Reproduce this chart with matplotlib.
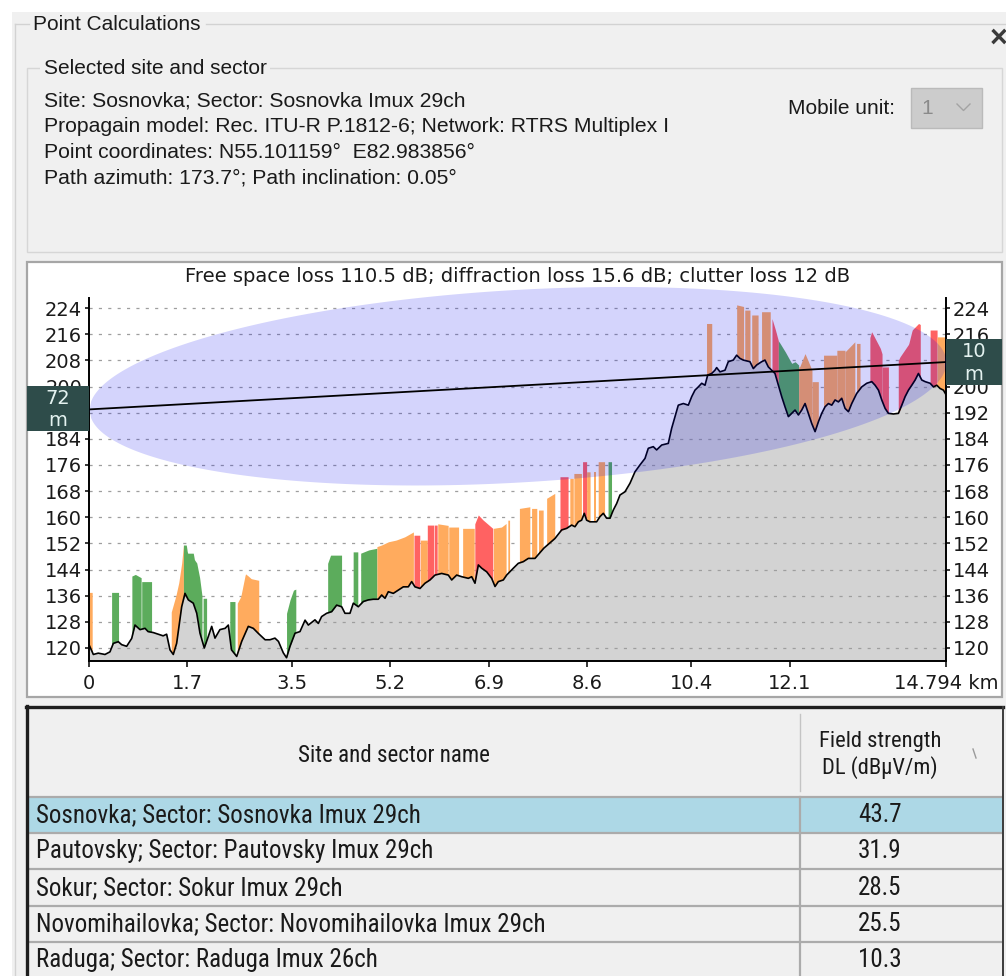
import numpy as np
import matplotlib
matplotlib.use("Agg")
import matplotlib.pyplot as plt
from matplotlib.patches import Rectangle
from matplotlib.lines import Line2D

W, H = 1006, 976
GUI_FONT = ["Liberation Sans", "DejaVu Sans"]
CHART_FONT = ["DejaVu Sans"]
TABLE_FONT = ["Roboto Condensed", "Liberation Sans", "DejaVu Sans"]
plt.rcParams["font.family"] = GUI_FONT
TXT = "#1a1a1a"

# ---------------- header information ----------------
window_title = "Point Calculations"
group_title = "Selected site and sector"
info_lines = [
    "Site: Sosnovka; Sector: Sosnovka Imux 29ch",
    "Propagain model: Rec. ITU-R P.1812-6; Network: RTRS Multiplex I",
    "Point coordinates: N55.101159\u00b0  E82.983856\u00b0",
    "Path azimuth: 173.7\u00b0; Path inclination: 0.05\u00b0",
]
mobile_unit = "1"
chart_title = "Free space loss 110.5 dB; diffraction loss 15.6 dB; clutter loss 12 dB"

# ---------------- path profile (km, m) ----------------
path_length_km = 14.794
tx_antenna_m = 72
rx_antenna_m = 10
fresnel_mid_radius_m = 29.5

profile_km = [
    0.000, 0.075, 0.160, 0.276, 0.362, 0.420, 0.506, 0.564, 0.650, 0.737,
    0.794, 0.880, 0.967, 1.020, 1.110, 1.196, 1.280, 1.340, 1.398, 1.455,
    1.513, 1.600, 1.657, 1.715, 1.800, 1.860, 1.916, 1.990, 2.060, 2.118,
    2.175, 2.260, 2.350, 2.405, 2.460, 2.550, 2.636, 2.750, 2.836, 2.920,
    3.040, 3.124, 3.210, 3.270, 3.354, 3.410, 3.470, 3.556, 3.642, 3.730,
    3.786, 3.901, 3.959, 4.016, 4.102, 4.189, 4.275, 4.362, 4.419, 4.505,
    4.563, 4.649, 4.735, 4.822, 4.908, 4.994, 5.052, 5.110, 5.167, 5.253,
    5.340, 5.426, 5.512, 5.570, 5.627, 5.714, 5.800, 5.886, 5.973, 6.088,
    6.203, 6.261, 6.347, 6.434, 6.548, 6.606, 6.663, 6.721, 6.779, 6.865,
    6.951, 7.009, 7.066, 7.152, 7.210, 7.325, 7.411, 7.497, 7.584, 7.699,
    7.850, 8.044, 8.159, 8.246, 8.332, 8.389, 8.447, 8.504, 8.550, 8.590,
    8.648, 8.763, 8.821, 8.878, 8.936, 8.994, 9.051, 9.109, 9.166, 9.253,
    9.339, 9.425, 9.511, 9.598, 9.655, 9.741, 9.799, 9.886, 10.000, 10.058,
    10.116, 10.173, 10.260, 10.346, 10.404, 10.461, 10.519, 10.577, 10.634, 10.680,
    10.749, 10.806, 10.835, 10.892, 10.979, 11.036, 11.122, 11.180, 11.238, 11.295,
    11.410, 11.468, 11.526, 11.612, 11.669, 11.727, 11.785, 11.842, 11.900, 11.958,
    12.015, 12.073, 12.130, 12.188, 12.246, 12.303, 12.361, 12.418, 12.476, 12.534,
    12.591, 12.649, 12.706, 12.764, 12.822, 12.879, 12.937, 12.994, 13.052, 13.110,
    13.167, 13.253, 13.340, 13.426, 13.512, 13.570, 13.628, 13.685, 13.743, 13.800,
    13.887, 13.973, 14.031, 14.088, 14.146, 14.203, 14.261, 14.318, 14.376, 14.434,
    14.520, 14.577, 14.635, 14.692, 14.750, 14.794,
]
profile_elev = [
    121.0, 118.0, 118.4, 118.0, 118.8, 121.4, 121.9, 121.0, 120.5, 122.9,
    127.0, 125.6, 126.0, 125.0, 124.7, 124.2, 123.7, 124.2, 119.4, 118.0,
    121.4, 132.6, 136.7, 134.7, 133.7, 130.6, 124.5, 120.0, 123.5, 126.6,
    123.0, 125.6, 126.0, 127.0, 119.4, 117.4, 122.0, 126.6, 126.0, 124.5,
    122.5, 122.5, 123.0, 122.0, 118.5, 117.0, 120.5, 124.5, 125.0, 128.5,
    127.0, 128.6, 127.5, 129.6, 130.6, 131.1, 133.1, 132.6, 130.6, 130.6,
    133.7, 132.6, 134.2, 134.7, 134.9, 134.9, 136.2, 135.2, 137.2, 136.7,
    137.7, 138.7, 138.7, 140.3, 138.7, 138.2, 139.8, 140.8, 142.3, 142.8,
    142.3, 140.8, 142.3, 141.8, 141.3, 141.8, 139.8, 145.4, 144.4, 143.3,
    141.3, 138.8, 140.3, 140.8, 142.3, 144.4, 145.9, 146.4, 147.4, 147.4,
    150.5, 153.5, 156.1, 156.6, 157.6, 157.1, 158.6, 159.1, 161.2, 159.1,
    158.6, 158.6, 160.2, 161.2, 159.7, 159.7, 162.2, 164.2, 166.8, 167.8,
    170.4, 173.9, 176.0, 178.0, 181.1, 181.6, 180.6, 182.1, 182.6, 187.2,
    190.8, 194.3, 194.8, 194.3, 196.9, 198.9, 199.9, 201.0, 200.4, 203.5,
    204.0, 205.0, 205.8, 204.5, 205.0, 207.6, 208.1, 209.6, 208.6, 208.1,
    207.6, 205.5, 206.6, 207.6, 208.1, 206.0, 205.0, 204.0, 200.4, 196.9,
    193.8, 190.8, 191.8, 192.8, 191.3, 192.8, 194.8, 191.8, 188.7, 186.2,
    189.2, 191.8, 193.8, 194.8, 194.3, 195.9, 195.3, 196.4, 193.3, 192.3,
    194.8, 197.9, 199.9, 201.0, 201.5, 200.4, 198.9, 195.9, 193.3, 191.8,
    191.6, 191.8, 194.3, 196.9, 198.9, 200.4, 202.0, 204.0, 202.0, 201.5,
    201.0, 199.9, 200.4, 199.4, 198.9, 197.5,
]

# ---------------- clutter along the path ----------------
# class: g = open/green, o = suburban, r = urban; tops in metres a.s.l.
clutter_class = [
    "o", "g", "g", "g", "o", "g", "g", "g", "o", "g",
    "g", "g", "g", "o", "r", "o", "r", "r", "o", "o",
    "o", "r", "o", "o", "o", "o", "o", "o", "r", "o",
    "o", "r", "o", "o", "o", "g", "o", "o", "o", "o",
    "o", "r", "g", "o", "o", "o", "o", "o", "o", "r",
    "r", "r", "r", "o",
]
clutter_km = [
    [0.0, 0.055], [0.39, 0.51], [0.74, 0.80, 0.90], [0.91, 1.08],
    [1.42, 1.50, 1.55, 1.60, 1.63], [1.63, 1.68, 1.70, 1.80, 1.82, 1.86, 1.91, 1.95],
    [1.97, 2.03], [2.43, 2.52], [2.56, 2.62, 2.70, 2.75, 2.80, 2.93],
    [3.41, 3.47, 3.53, 3.57],
    [4.12, 4.17, 4.36], [4.56, 4.64], [4.69, 4.83, 4.97],
    [4.97, 5.05, 5.17, 5.30, 5.45, 5.60], [5.61, 5.71], [5.72, 5.84],
    [5.84, 5.95], [5.96, 6.01], [6.02, 6.20], [6.21, 6.38], [6.45, 6.65],
    [6.66, 6.72, 6.80, 6.97], [6.98, 7.12, 7.20], [7.23, 7.26],
    [7.43, 7.61], [7.64, 7.73], [7.76, 7.84], [7.90, 8.04],
    [8.13, 8.27], [8.30, 8.36], [8.37, 8.50], [8.52, 8.59], [8.59, 8.65],
    [8.71, 8.76], [8.79, 8.90], [8.96, 9.02],
    [10.66, 10.75], [11.18, 11.30], [11.32, 11.41], [11.44, 11.55], [11.61, 11.76],
    [11.79, 11.85, 11.90], [11.90, 11.93, 12.02, 12.13, 12.19, 12.25],
    [12.25, 12.27, 12.36, 12.42, 12.48], [12.48, 12.59], [12.68, 12.91],
    [12.91, 13.05], [13.05, 13.22], [13.25, 13.31],
    [13.48, 13.51, 13.66, 13.69], [13.69, 13.80],
    [13.97, 14.00, 14.15, 14.21, 14.32, 14.35], [14.52, 14.64], [14.64, 14.78],
]
clutter_top = [
    [137, 137], [137, 137], [142, 142.5, 141.5], [140.3, 140.3],
    [131, 136, 140, 146, 151.5], [151.5, 151.5, 149, 149, 147, 146, 141.5, 136],
    [135.2, 135.2], [134.2, 134.2], [133.7, 135.7, 142.7, 142, 141.2, 140.7],
    [130.6, 134.7, 137.7, 138],
    [145.9, 148.4, 148.4], [149.4, 149.4], [149, 150, 150.5],
    [151, 151.5, 152.5, 153, 154, 155.5], [154.5, 154.5], [153, 153],
    [157.6, 157.6], [157.6, 157.6], [158, 157.5], [157, 157], [156.6, 156.6],
    [158, 160.7, 159.2, 156.6], [156.6, 157, 158.1], [159.1, 159.1],
    [162.7, 163.2], [162.7, 162.7], [162.2, 162.2], [165.8, 167.3],
    [172.4, 172.4], [171.9, 171.9], [173.4, 173.4], [177, 177], [173.9, 173.9],
    [173.9, 173.9], [177, 177], [177, 177],
    [219.3, 219.3], [225.0, 224.5], [223.4, 223.4], [221.9, 221.9], [222.9, 222.9],
    [220.8, 217.3, 214], [214, 213.2, 210.6, 207.1, 207.6, 206.6],
    [206, 206.1, 210.1, 207.6, 205], [201.5, 201.5], [209.6, 209.6],
    [211.1, 211.1], [210.6, 213.7], [213.2, 213.2],
    [215, 216.8, 211.7, 210], [206, 206],
    [208, 209.1, 213, 217.3, 219.3, 219], [217.3, 217.3], [215.2, 215.2],
]
clutter_colors = {"g": "#5cac5c", "o": "#ffab5e", "r": "#ff6262"}

# ---------------- axes ticks ----------------
ytick_values = list(range(120, 225, 8))
xtick_values = [0, 1.7, 3.5, 5.2, 6.9, 8.6, 10.4, 12.1, 14.794]
xtick_labels = ["0", "1.7", "3.5", "5.2", "6.9", "8.6", "10.4", "12.1", "14.794 km"]
y_range = (116.0, 227.1)

# ---------------- results table ----------------
table_header = ["Site and sector name", "Field strength\nDL (dB\u00b5V/m)"]
table_sites = [
    "Sosnovka; Sector: Sosnovka Imux 29ch",
    "Pautovsky; Sector: Pautovsky Imux 29ch",
    "Sokur; Sector: Sokur Imux 29ch",
    "Novomihailovka; Sector: Novomihailovka Imux 29ch",
    "Raduga; Sector: Raduga Imux 26ch",
]
table_field_strength = [43.7, 31.9, 28.5, 25.5, 10.3]

# ================= drawing =================
fig = plt.figure(figsize=(W / 100, H / 100), dpi=100)
fig.patch.set_facecolor("#f0f0f0")


def fx(px):
    return px / W


def fy(py):
    return 1 - py / H


def box(x0, y0, x1, y1, z=-5, **kw):
    fig.add_artist(Rectangle((fx(x0), fy(y1)), (x1 - x0) / W, (y1 - y0) / H,
                             transform=fig.transFigure, zorder=z, **kw))


def seg(xs, ys, z=-4, **kw):
    fig.add_artist(Line2D([fx(v) for v in xs], [fy(v) for v in ys],
                          transform=fig.transFigure, zorder=z, **kw))


def label(x, y, s, **kw):
    kw.setdefault("va", "center")
    kw.setdefault("color", TXT)
    return fig.text(fx(x), fy(y), s, **kw)


# window frame
box(0, 0, W, 12, facecolor="white", edgecolor="none", z=-9)
box(0, 0, 12, H, facecolor="white", edgecolor="none", z=-9)
seg([15, 15], [24, H], color="#d2d2d2", lw=1)
seg([15, 29], [24, 24], color="#d2d2d2", lw=1)
seg([206, W], [24, 24], color="#d2d2d2", lw=1)
label(33, 25, window_title, fontsize=15)
label(999, 39, "\u00d7", fontsize=22, ha="center", color="#3a3a3a", fontweight="bold")

# site/sector group
box(27, 68, 1002, 252, facecolor="none", edgecolor="#d6d6d6", lw=1, z=-4)
label(44, 69, group_title, fontsize=15,
      bbox=dict(facecolor="#f0f0f0", edgecolor="none", pad=2.5))
for i, line in enumerate(info_lines):
    label(44, 101 + 25.5 * i, line, fontsize=15.2)
label(895, 108, "Mobile unit:", fontsize=15, ha="right")
box(911, 88, 982, 128, facecolor="#cccccc", edgecolor="#bababa", lw=1, z=-3)
label(921, 108, mobile_unit, fontsize=15, color="#8a8a8a")
seg([957, 963.5, 970], [104, 110.5, 104], color="#a3a3a3", lw=1, z=-2)

# chart panel
box(27, 262, 1002, 697, facecolor="white", edgecolor="#a6a6a6", lw=1.6, z=-4)
label(518, 277, chart_title, fontsize=14, ha="center", family=CHART_FONT)

ax = fig.add_axes([fx(89), fy(661), 857 / W, 363 / H])
ax.set_zorder(5)
ax.patch.set_visible(False)
ax.set_xlim(0, path_length_km)
ax.set_ylim(*y_range)

# terrain
ax.fill_between(profile_km, profile_elev, y_range[0], color="#d3d3d3", lw=0, zorder=1)
for v in ytick_values:
    ax.axhline(v, color="#9e9e9e", lw=0.9, ls=(0, (2.5, 5)), zorder=1.5)

# clutter
for cls, kms, tops in zip(clutter_class, clutter_km, clutter_top):
    inner = [k for k in profile_km if kms[0] < k < kms[-1]]
    xs = np.union1d(np.linspace(kms[0], kms[-1], 40), inner)
    ground = np.interp(xs, profile_km, profile_elev)
    top = np.interp(xs, kms, tops)
    ax.fill_between(xs, ground, top, where=top >= ground, interpolate=True,
                    color=clutter_colors[cls], lw=0, zorder=2)

ax.plot(profile_km, profile_elev, color="black", lw=1.2, zorder=3)

# line of sight and 0.6 Fresnel zone
h_tx = profile_elev[0] + tx_antenna_m
h_rx = profile_elev[-1] + rx_antenna_m
t = np.linspace(0, 1, 500)
los = h_tx + (h_rx - h_tx) * t
rad = fresnel_mid_radius_m * np.sqrt(4 * t * (1 - t))
fz = ax.fill_between(t * path_length_km, los - rad, los + rad,
                     color=(0.0, 0.0, 0.94), alpha=0.17, lw=0, zorder=4)
fz.set_clip_on(False)
ax.plot([0, path_length_km], [h_tx, h_rx], color="black", lw=1.3, zorder=5)

# antenna height badges
km_px = path_length_km / 857
m_px = (y_range[1] - y_range[0]) / 363
badge_col = "#2e4c4a"
badge_txt = "#e4f2f0"
ax.add_patch(Rectangle((-62 * km_px, h_tx - 22 * m_px), 62 * km_px, 45 * m_px,
                       facecolor=badge_col, edgecolor="none", clip_on=False, zorder=6))
ax.text(-31 * km_px, h_tx + 11 * m_px, str(tx_antenna_m), color=badge_txt, fontsize=14,
        ha="center", va="center", clip_on=False, zorder=7, family=CHART_FONT)
ax.text(-31 * km_px, h_tx - 11 * m_px, "m", color=badge_txt, fontsize=14,
        ha="center", va="center", clip_on=False, zorder=7, family=CHART_FONT)
ax.add_patch(Rectangle((path_length_km, h_rx - 23 * m_px), 56 * km_px, 46 * m_px,
                       facecolor=badge_col, edgecolor="none", clip_on=False, zorder=6))
ax.text(path_length_km + 28 * km_px, h_rx + 11 * m_px, str(rx_antenna_m), color=badge_txt,
        fontsize=14, ha="center", va="center", clip_on=False, zorder=7, family=CHART_FONT)
ax.text(path_length_km + 28 * km_px, h_rx - 12 * m_px, "m", color=badge_txt, fontsize=14,
        ha="center", va="center", clip_on=False, zorder=7, family=CHART_FONT)

# axes styling
ax.set_yticks(ytick_values)
ax.set_xticks(xtick_values)
ax.set_xticklabels(xtick_labels)
ax.tick_params(axis="y", left=True, right=True, labelleft=True, labelright=True,
               direction="out", length=3, width=1.1, pad=2, labelsize=14,
               labelcolor=TXT, labelfontfamily="DejaVu Sans")
ax.tick_params(axis="x", direction="out", length=4.5, width=1.1, pad=5, labelsize=14,
               labelcolor=TXT, labelfontfamily="DejaVu Sans")
for side in ("left", "right", "bottom"):
    ax.spines[side].set_linewidth(1.4)
    ax.spines[side].set_color("black")
ax.spines["top"].set_visible(False)

# results table
box(27, 707, 1003, H + 5, facecolor="#f0f0f0", edgecolor="none", z=-6)
box(28, 797, 1002, 833, facecolor="#add8e6", edgecolor="none", z=-5)
for yl in (797, 833, 869, 906, 942):
    seg([28, 1002], [yl, yl], color="#ababab", lw=1.6, z=-3)
seg([800, 800], [714, 791], color="#c4c4c4", lw=1, z=-3)
seg([800, 800], [797, H], color="#ababab", lw=1.6, z=-3)
seg([27, 27], [706, H], color="#1e1e1e", lw=2.4, z=-2)
seg([26, 1003], [707, 707], color="#1e1e1e", lw=2.4, z=-2)
seg([1003, 1003], [707, H], color="#3c3c3c", lw=1.4, z=-2)
label(394, 755, table_header[0], fontsize=16.6, ha="center", family=TABLE_FONT)
label(880, 755, table_header[1], fontsize=16.2, ha="center", family=TABLE_FONT,
      linespacing=1.2)
seg([973, 976], [749, 758], color="#9a9a9a", lw=1, z=-2)
row_y = [815, 851, 888, 924, 960]
for yy, site, val in zip(row_y, table_sites, table_field_strength):
    label(36, yy, site, fontsize=18, family=TABLE_FONT)
    label(880, yy, f"{val:.1f}", fontsize=18, ha="center", family=TABLE_FONT)

fig.savefig("out.png", dpi=100)
